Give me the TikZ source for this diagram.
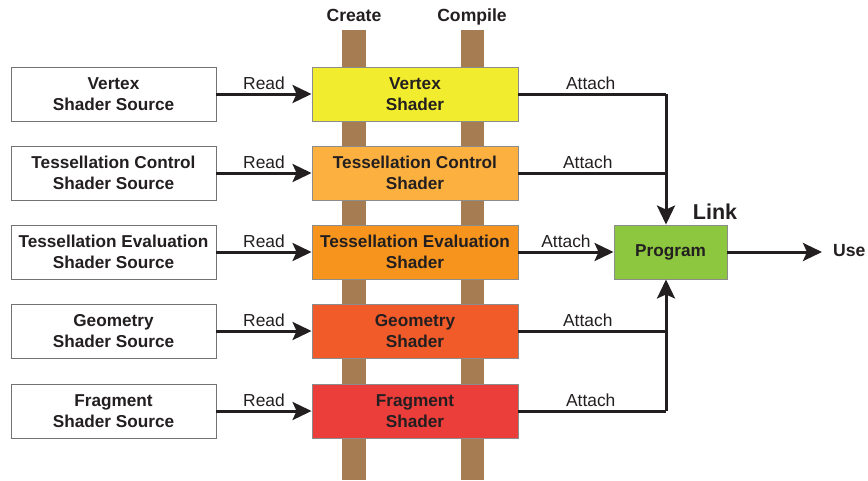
\documentclass[tikz,border=0pt]{standalone}
\usepackage{fontspec}
\setmainfont{Liberation Sans}
\usetikzlibrary{arrows.meta}
\definecolor{barbrown}{HTML}{A67C52}
\definecolor{cvert}{HTML}{F2EC2E}
\definecolor{ctctl}{HTML}{FBB040}
\definecolor{cteval}{HTML}{F7941D}
\definecolor{cgeom}{HTML}{F15A29}
\definecolor{cfrag}{HTML}{EB3D3A}
\definecolor{cprog}{HTML}{8DC63F}
\definecolor{ink}{HTML}{231F20}
\begin{document}
\begin{tikzpicture}[x=1pt,y=-1pt,
  srcbox/.style={draw=black!55,line width=0.9pt,fill=white,minimum width=205pt,minimum height=54pt,
    inner sep=0pt,align=center,text=ink,font=\fontsize{17.2}{20.5}\selectfont\bfseries},
  shbox/.style={draw=black!45,line width=0.9pt,minimum width=206pt,minimum height=54pt,
    inner sep=0pt,align=center,text=ink,font=\fontsize{17.2}{20.5}\selectfont\bfseries},
  lbl/.style={font=\fontsize{17.4}{20}\selectfont,text=ink,inner sep=1pt},
  hdr/.style={font=\fontsize{17.6}{20}\selectfont\bfseries,text=ink,inner sep=0pt},
  link/.style={draw=ink,line width=3pt,-{Stealth[length=19pt,width=18pt,inset=4pt]}},
  wire/.style={draw=ink,line width=3pt}]
\useasboundingbox (0,0) rectangle (868,480);

% the two process bars
\fill[barbrown] (342,30) rectangle (366,480);
\fill[barbrown] (461,30) rectangle (484,480);
\node[hdr,anchor=base] (create) at (354,21.5) {Create};
\node[hdr,anchor=base] (compile) at (472,21.5) {Compile};

% source boxes
\node[srcbox] (s1) at (113.5,94) {Vertex\\Shader Source};
\node[srcbox] (s2) at (113.5,173) {Tessellation Control\\Shader Source};
\node[srcbox] (s3) at (113.5,252) {Tessellation Evaluation\\Shader Source};
\node[srcbox] (s4) at (113.5,331) {Geometry\\Shader Source};
\node[srcbox] (s5) at (113.5,411) {Fragment\\Shader Source};

% shader objects
\node[shbox,fill=cvert] (h1) at (415,94) {Vertex\\Shader};
\node[shbox,fill=ctctl] (h2) at (415,173) {Tessellation Control\\Shader};
\node[shbox,fill=cteval] (h3) at (415,252) {Tessellation Evaluation\\Shader};
\node[shbox,fill=cgeom] (h4) at (415,331) {Geometry\\Shader};
\node[shbox,fill=cfrag] (h5) at (415,411) {Fragment\\Shader};

% program
\node[draw=black!45,line width=0.9pt,fill=cprog,minimum width=113pt,minimum height=54pt,inner sep=0pt,
  text=ink,font=\fontsize{17.2}{20}\selectfont\bfseries] (prog) at (670.5,252) {Program};
\node[font=\fontsize{21.5}{24}\selectfont\bfseries,text=ink,inner sep=0pt] (linklbl) at (715,212) {Link};
\coordinate (useend) at (822,252);
\node[hdr,anchor=west] (use) at (833,251) {Use};

% read arrows
\foreach \i in {1,...,5}{
  \draw[link] (s\i.east) -- node[lbl,above=1.5pt] {Read} (h\i.west);
}

% attach connectors
\coordinate (ctop) at (666,94);
\coordinate (cbot) at (666,411);
\draw[wire] (h1.east) -- node[lbl,above=1.5pt,pos=0.49] {Attach} (ctop);
\draw[link] (ctop) -- (prog.north -| ctop);
\draw[wire] (h2.east) -- node[lbl,above=1.5pt,pos=0.47] {Attach} (h2.east -| ctop);
\draw[link] (h3.east) -- node[lbl,above=1.5pt] {Attach} (prog.west);
\draw[wire] (h4.east) -- node[lbl,above=1.5pt,pos=0.47] {Attach} (h4.east -| cbot);
\draw[wire] (h5.east) -- node[lbl,above=1.5pt,pos=0.49] {Attach} (cbot);
\draw[link] (cbot) -- (prog.south -| cbot);

% use arrow
\draw[link] (prog.east) -- (useend);
\end{tikzpicture}
\end{document}
